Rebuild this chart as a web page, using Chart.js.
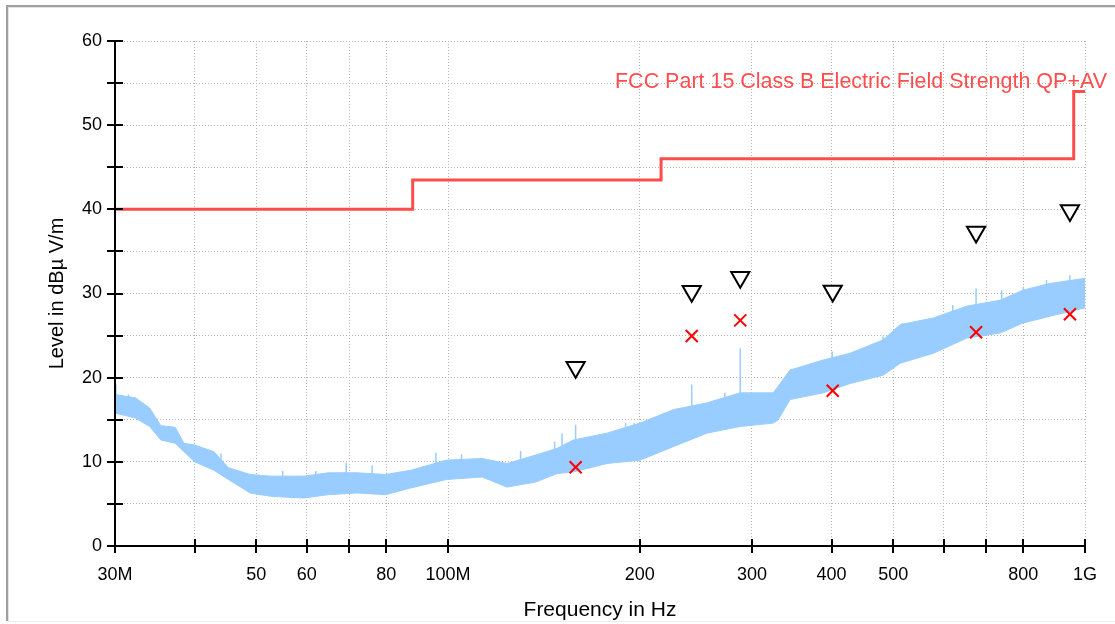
<!DOCTYPE html>
<html>
<head>
<meta charset="utf-8">
<script src="https://cdn.jsdelivr.net/npm/chart.js@4.4.1/dist/chart.umd.min.js"></script>
<style>
  html, body { margin: 0; padding: 0; background: #ffffff; width: 1115px; height: 624px; overflow: hidden; }
  #wrap { position: relative; width: 1115px; height: 624px; }
  #c { position: absolute; left: 0; top: 0; }
  #frame { position: absolute; left: 6px; top: 5px; width: 1109px; height: 616px;
           border-left: 2px solid #a0a0a0; border-top: 2px solid #a0a0a0; box-sizing: border-box; pointer-events: none; }
  #frame2 { position: absolute; left: 8px; top: 7px; width: 1107px; height: 615px;
           border-left: 1px solid #e4e4e4; border-top: 1px solid #e4e4e4; border-bottom: 1px solid #eeeeee; box-sizing: border-box; pointer-events: none; }
</style>
</head>
<body>
<div id="wrap">
  <canvas id="c" width="1115" height="624"></canvas>
  <div id="frame"></div>
  <div id="frame2"></div>
</div>
<script>
// ---------- DATA (frequencies in MHz, levels in dBµV/m) ----------
const xTickValues = [30, 40, 50, 60, 70, 80, 100, 200, 300, 400, 500, 600, 700, 800, 1000];
const xTickLabels = ['30M', '', '50', '60', '', '80', '100M', '200', '300', '400', '500', '', '', '800', '1G'];

const limitFreqs  = [30, 88, 216, 960, 1000];
const limitLevels = [40, 43.5, 46, 54, 54];
const limitName = 'FCC Part 15 Class B Electric Field Strength QP+AV';

const bandFreqs = [30, 32.3, 34.0, 35.4, 37.3, 38.5, 40.0, 42.9, 45.2, 48.9,
                   52.7, 59.3, 64.9, 72.0, 79.8, 87.4, 99.4, 113.1, 123.7, 137.3,
                   148.3, 157.3, 177.5, 200.2, 225.7, 254.8, 287.4, 324, 330, 344.2,
                   388.3, 427.7, 482.4, 512.5, 578.2, 652.3, 735.5, 799.6, 881.5, 1000];
const bandUpper = [18.0, 17.6, 16.4, 14.3, 14.1, 12.2, 12.0, 11.2, 9.3, 8.5,
                   8.3, 8.3, 8.7, 8.7, 8.5, 9.0, 10.2, 10.4, 9.8, 10.8,
                   11.6, 12.6, 13.4, 14.6, 16.2, 17.0, 18.2, 18.2, 19.0, 20.9,
                   22.1, 22.9, 24.5, 26.3, 27.1, 28.5, 29.2, 30.4, 31.2, 31.8];
const bandLower = [15.8, 15.2, 14.2, 12.6, 12.2, 11.2, 10.0, 9.0, 7.9, 6.3,
                   5.9, 5.7, 6.1, 6.3, 6.1, 6.9, 7.9, 8.2, 7.0, 7.6,
                   8.6, 8.8, 9.8, 10.2, 11.8, 13.4, 14.2, 14.6, 15.0, 17.4,
                   18.2, 19.3, 20.3, 21.7, 22.9, 24.7, 25.3, 26.5, 27.3, 28.3];

const spikeFreqs = [30.1, 31.5, 36.5, 44.0, 55.0, 62.0, 69.2, 76.0, 95.7, 105.0,
                    130.0, 147.0, 151.0, 158.6, 190.0, 196.0, 225.0, 229.0, 241.3, 272.0,
                    287.6, 295.0, 332.0, 365.0, 401.0, 482.0, 517.0, 620.0, 674.5, 740.0,
                    800.0, 870.0, 947.0];
const spikeBases = [17.0, 16.5, 13.5, 10.0, 7.8, 7.8, 7.5, 8.0, 9.0, 9.8,
                    9.6, 10.5, 11.0, 11.5, 13.2, 13.0, 15.5, 15.8, 15.0, 17.5,
                    17.0, 17.5, 18.2, 21.0, 21.5, 24.0, 25.5, 27.5, 27.0, 29.0,
                    30.0, 31.0, 30.5];
const spikeTops  = [19.2, 18.0, 14.2, 11.0, 8.9, 8.9, 9.9, 9.6, 11.1, 10.9,
                    11.3, 12.4, 13.4, 14.4, 14.6, 14.6, 15.8, 15.8, 19.2, 18.2,
                    23.5, 17.7, 18.5, 21.1, 23.1, 24.9, 26.5, 28.6, 30.6, 30.4,
                    30.8, 31.6, 32.2];

const peakFreqs  = [158.6, 241.3, 287.6, 401.7, 674.5, 947.0];
const peakQP     = [21.24, 30.27, 31.93, 30.30, 37.31, 39.85];
const peakAV     = [9.35, 24.95, 26.81, 18.45, 25.39, 27.53];

// ---------- build library data from arrays ----------
const upperPts = bandFreqs.map((f, i) => ({x: f, y: bandUpper[i]}));
const lowerPts = bandFreqs.map((f, i) => ({x: f, y: bandLower[i]}));
const spikePts = [];
spikeFreqs.forEach((f, i) => {
  spikePts.push({x: f, y: spikeBases[i]}, {x: f, y: spikeTops[i]}, {x: f, y: null});
});
const limitPts = limitFreqs.map((f, i) => ({x: f, y: limitLevels[i]}));
const qpPts = peakFreqs.map((f, i) => ({x: f, y: peakQP[i]}));
const avPts = peakFreqs.map((f, i) => ({x: f, y: peakAV[i]}));

const BAND = '#99ccff';
const RED = '#ff4d4d';

// axes with ticks crossing the axis line
const crossAxes = {
  id: 'crossAxes',
  afterDatasetsDraw(chart) {
    const {ctx, chartArea: a, scales: {x, y}} = chart;
    ctx.save();
    ctx.strokeStyle = '#000000';
    ctx.lineWidth = 2;
    ctx.beginPath();
    y.ticks.forEach((t, i) => {
      const py = Math.round(y.getPixelForTick(i));
      ctx.moveTo(a.left - 8, py); ctx.lineTo(a.left + 8, py);
    });
    x.ticks.forEach((t, i) => {
      const px = Math.round(x.getPixelForTick(i));
      ctx.moveTo(px, a.bottom - 7); ctx.lineTo(px, a.bottom + 7);
    });
    ctx.moveTo(a.left, a.top - 1); ctx.lineTo(a.left, a.bottom);
    ctx.lineTo(a.right, a.bottom);
    ctx.stroke();
    ctx.restore();
  }
};

const limitLabel = {
  id: 'limitLabel',
  afterDraw(chart) {
    const {ctx, chartArea: a} = chart;
    ctx.save();
    ctx.fillStyle = RED;
    ctx.font = '21.5px "Liberation Sans", Arial, sans-serif';
    ctx.textAlign = 'right';
    ctx.textBaseline = 'alphabetic';
    ctx.fillText(limitName, a.right + 22, a.top + 47, 492);
    ctx.restore();
  }
};

const tickFont = {family: '"Liberation Sans", Arial, sans-serif', size: 18};

new Chart(document.getElementById('c'), {
  type: 'line',
  data: {
    datasets: [
      { label: 'AV', data: avPts, showLine: false, pointStyle: 'crossRot', pointRadius: 8.5,
        pointBorderColor: '#ff0000', pointBorderWidth: 2, pointBackgroundColor: '#ff0000' },
      { label: 'QP', data: qpPts, showLine: false, pointStyle: 'triangle', pointRotation: 180, pointRadius: 10.5,
        pointBorderColor: '#000000', pointBorderWidth: 2, pointBackgroundColor: '#ffffff' },
      { label: limitName, data: limitPts, stepped: 'before', borderColor: RED, borderWidth: 3,
        pointRadius: 0, fill: false },
      { label: 'spikes', data: spikePts, borderColor: BAND, borderWidth: 1.5, pointRadius: 0,
        spanGaps: false, fill: false },
      { label: 'upper', data: upperPts, borderColor: BAND, borderWidth: 1, pointRadius: 0, fill: false },
      { label: 'lower', data: lowerPts, borderColor: BAND, borderWidth: 1, pointRadius: 0,
        fill: '-1', backgroundColor: BAND }
    ]
  },
  options: {
    responsive: false,
    animation: false,
    events: [],
    layout: { autoPadding: false, padding: { left: 0, right: 30, top: 41, bottom: 0 } },
    plugins: { legend: { display: false }, tooltip: { enabled: false } },
    elements: { line: { tension: 0 } },
    scales: {
      x: {
        type: 'logarithmic', min: 30, max: 1000,
        afterBuildTicks: (s) => { s.ticks = xTickValues.map(v => ({value: v})); },
        afterFit: (s) => { s.height = 78; s.paddingLeft = 0; s.paddingRight = 0; s.paddingTop = 0; s.paddingBottom = 0; },
        ticks: {
          autoSkip: false, maxRotation: 0, minRotation: 0, padding: 18, color: '#000000', font: tickFont,
          callback: (v, i) => xTickLabels[i]
        },
        grid: { color: '#b4b4b4', lineWidth: 1, drawTicks: false },
        border: { display: false, dash: [1, 2] },
        title: { display: true, text: 'Frequency in Hz', color: '#000000',
                 font: {family: '"Liberation Sans", Arial, sans-serif', size: 21},
                 padding: { top: 0, bottom: 1 } }
      },
      y: {
        type: 'linear', min: 0, max: 60,
        afterFit: (s) => { s.width = 115; s.paddingLeft = 0; s.paddingRight = 0; s.paddingTop = 0; s.paddingBottom = 0; },
        ticks: { stepSize: 5, padding: 13, color: '#000000', font: tickFont,
                 callback: (v) => (v % 10 === 0 ? String(v) : '') },
        grid: { color: '#b4b4b4', lineWidth: 1, drawTicks: false },
        border: { display: false, dash: [1, 2] },
        title: { display: true, text: 'Level in dBµ V/m', color: '#000000',
                 font: {family: '"Liberation Sans", Arial, sans-serif', size: 20},
                 padding: { top: 45, bottom: 0 } }
      }
    }
  },
  plugins: [crossAxes, limitLabel]
});
</script>
</body>
</html>
